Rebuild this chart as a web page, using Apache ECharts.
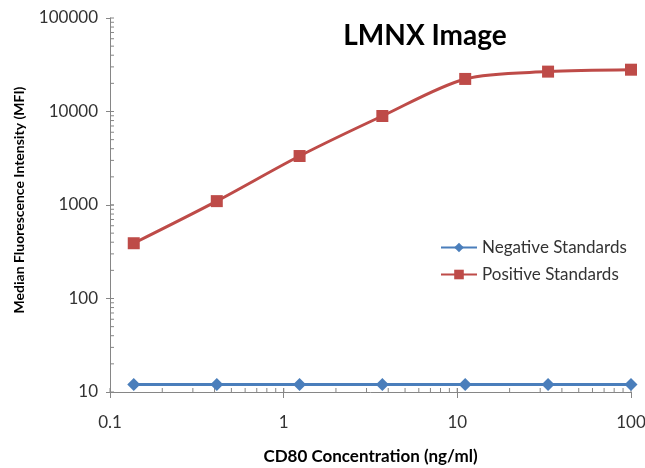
<!DOCTYPE html>
<html><head><meta charset="utf-8">
<script src="https://cdn.jsdelivr.net/npm/echarts@6/dist/echarts.min.js"></script>
<style>html,body{margin:0;padding:0;background:#fff}#c{width:645px;height:468px}</style>
</head><body><div id="c"></div>
<script>
// Data
const concentrations = [0.137, 0.412, 1.235, 3.70, 11.1, 33.3, 100];
const negativeStandards = [12, 12, 12, 12, 12, 12, 12];
const positiveStandards = [390, 1100, 3340, 8950, 22300, 26700, 28000];
const xTickLabels = {"0.1": "0.1", "1": "1", "10": "10", "100": "100"};
const yTickLabels = {"10": "10", "100": "100", "1000": "1000", "10000": "10000", "100000": "100000"};
const xDecades = [0.1, 1, 10];
const yDecades = [10, 100, 1000, 10000];

const axisColor = '#868686';
const font = 'Lato, "Liberation Sans", sans-serif';

function keyOf(v){ return String(+v.toPrecision(6)); }

const xMinor = [];
xDecades.forEach(d => { for (let k = 1; k <= 10; k++) xMinor.push(+(k*d).toPrecision(6)); });
const yMinor = [];
yDecades.forEach(d => { for (let k = 1; k <= 10; k++) yMinor.push(+(k*d).toPrecision(6)); });

const chart = echarts.init(document.getElementById('c'), null, {renderer: 'canvas'});
chart.setOption({
  animation: false,
  backgroundColor: '#fff',
  title: {
    text: 'LMNX Image', left: 420, top: 17, textAlign: 'center',
    textStyle: {fontFamily: font, fontSize: 28, fontWeight: 'bold', color: '#000'}
  },
  legend: {
    orient: 'vertical', left: 440, top: 239, itemGap: 10, padding: 0,
    itemWidth: 36, itemHeight: 12,
    textStyle: {fontFamily: font, fontSize: 17, color: '#333'},
    data: ['Negative Standards', 'Positive Standards']
  },
  graphic: [{
    type: 'text', x: 19, y: 200, rotation: Math.PI / 2,
    style: {text: 'Median Fluorescence Intensity (MFI)', fontFamily: font, fontSize: 14,
      fontWeight: 'bold', fill: '#000', align: 'center', verticalAlign: 'middle'}
  }],
  grid: {left: 110, right: 14, top: 18, bottom: 76, outerBoundsMode: 'none', containLabel: false},
  xAxis: {
    type: 'log', logBase: 10, min: 0.1, max: 100,
    name: 'CD80 Concentration (ng/ml)', nameLocation: 'middle', nameGap: 56,
    nameTextStyle: {fontFamily: font, fontSize: 17, fontWeight: 'bold', color: '#000'},
    axisLine: {lineStyle: {color: axisColor, width: 1}},
    axisTick: {show: true, length: 6, lineStyle: {color: axisColor}},
    axisLabel: {fontFamily: font, fontSize: 17, color: '#333', margin: 22,
      formatter: v => xTickLabels[keyOf(v)] || ''},
    splitLine: {show: false}
  },
  yAxis: {
    type: 'log', logBase: 10, min: 10, max: 100000,
    axisLine: {lineStyle: {color: axisColor, width: 1}},
    axisTick: {show: true, length: 4, lineStyle: {color: axisColor}},
    axisLabel: {fontFamily: font, fontSize: 17, color: '#333', margin: 12,
      formatter: v => yTickLabels[keyOf(v)] || ''},
    splitLine: {show: false}
  },
  series: [
    {
      type: 'custom', silent: true, z: 1, clip: false,
      data: xMinor.map(v => [v, 10]),
      renderItem: (params, api) => {
        const p = api.coord([api.value(0), api.value(1)]);
        return {type: 'line', shape: {x1: p[0], y1: p[1], x2: p[0], y2: p[1] - 4},
          style: {stroke: axisColor, lineWidth: 1}};
      }
    },
    {
      type: 'custom', silent: true, z: 1, clip: false,
      data: yMinor.map(v => [0.1, v]),
      renderItem: (params, api) => {
        const p = api.coord([api.value(0), api.value(1)]);
        return {type: 'line', shape: {x1: p[0], y1: p[1], x2: p[0] + 4, y2: p[1]},
          style: {stroke: axisColor, lineWidth: 1}};
      }
    },
    {
      name: 'Negative Standards', type: 'line', z: 3,
      data: concentrations.map((x, i) => [x, negativeStandards[i]]),
      symbol: 'diamond', symbolSize: 13,
      lineStyle: {color: '#4A7EBB', width: 3},
      itemStyle: {color: '#4A7EBB'}
    },
    {
      name: 'Positive Standards', type: 'line', z: 3, smooth: 0.3,
      data: concentrations.map((x, i) => [x, positiveStandards[i]]),
      symbol: 'rect', symbolSize: 12,
      lineStyle: {color: '#BE4B48', width: 3},
      itemStyle: {color: '#BE4B48'}
    }
  ]
});
</script>
</body></html>
